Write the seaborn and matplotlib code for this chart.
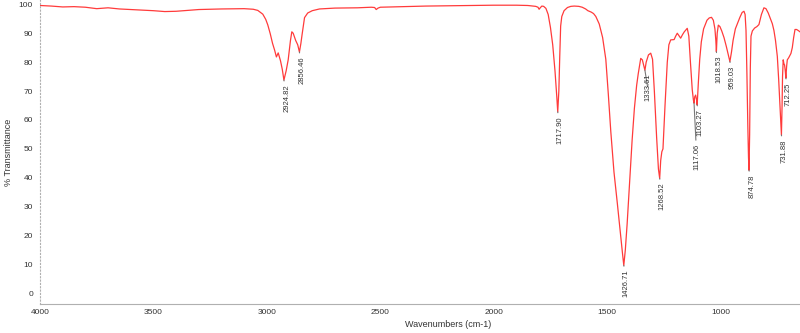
import numpy as np
import pandas as pd
import matplotlib
matplotlib.use("Agg")
import matplotlib.pyplot as plt
import seaborn as sns
from matplotlib.ticker import MultipleLocator

# Spectrum (wavenumber cm-1, % transmittance)
wavenumbers = [4000, 3950, 3900, 3850, 3800, 3750, 3700, 3650, 3600, 3550, 3500, 3450, 3400, 3350, 3300,
               3200, 3100, 3060, 3040, 3018, 3005, 2996, 2985, 2975, 2966, 2958, 2950, 2940, 2932, 2924.82,
               2915, 2906, 2896, 2890, 2884, 2873, 2864, 2856.46, 2850, 2845, 2834, 2820, 2800, 2768, 2700,
               2600, 2540, 2525, 2518, 2510, 2500, 2400, 2300, 2200, 2100, 2000, 1900, 1850, 1815, 1805,
               1800, 1795, 1788, 1780, 1770, 1760, 1750, 1740, 1730, 1722, 1717.90, 1713, 1709, 1705, 1700,
               1690, 1675, 1660, 1645, 1625, 1610, 1595, 1585, 1570, 1560, 1550, 1535, 1520, 1506, 1495,
               1484, 1470, 1455, 1440, 1432, 1426.71, 1420, 1412, 1400, 1390, 1380, 1370, 1363, 1352, 1345,
               1338, 1333.61, 1328, 1318, 1308, 1300, 1292, 1282, 1274, 1268.52, 1264, 1259, 1254, 1245,
               1235, 1228, 1220, 1205, 1198, 1191, 1184, 1176, 1168, 1160, 1147, 1140, 1133, 1125, 1120,
               1117.06, 1114, 1110, 1106, 1103.27, 1098, 1092, 1085, 1075, 1060, 1050, 1040, 1032, 1025,
               1021, 1018.53, 1015, 1010, 1003, 995, 985, 975, 966, 959.03, 952, 945, 935, 925, 915, 905,
               897, 892, 888, 884, 880, 877, 874.78, 872, 869, 866, 860, 850, 840, 831, 820, 809, 800, 790,
               780, 772, 765, 758, 750, 744, 739, 735, 731.88, 729, 727, 724, 721, 718, 715, 712.25, 709,
               706, 700, 690, 684, 678, 672, 665, 655, 651]
transmittance = [99.6, 99.4, 99.1, 99.2, 99.0, 98.5, 98.8, 98.4, 98.2, 98.0, 97.8, 97.5, 97.6, 97.9, 98.2,
                 98.4, 98.5, 98.3, 97.9, 96.6, 94.8, 92.9, 89.8, 86.5, 84.2, 81.8, 83.2, 80.5, 77.5, 73.8,
                 77.0, 80.8, 87.5, 90.5, 90.0, 87.5, 86.0, 83.5, 86.5, 89.4, 95.4, 97.0, 97.8, 98.4, 98.7,
                 98.8, 99.0, 98.9, 98.2, 98.7, 99.0, 99.2, 99.4, 99.5, 99.6, 99.7, 99.7, 99.6, 99.3, 99.0,
                 98.3, 98.8, 99.4, 99.3, 98.6, 96.5, 92.0, 86.0, 77.0, 68.0, 62.8, 70.0, 82.0, 92.5, 95.8,
                 97.8, 98.9, 99.3, 99.4, 99.3, 99.0, 98.4, 97.8, 97.3, 96.8, 95.8, 93.2, 88.5, 81.0, 69.0,
                 56.0, 42.0, 31.0, 19.5, 13.5, 9.7, 15.0, 24.0, 40.0, 53.0, 64.0, 72.0, 76.0, 81.3, 80.8,
                 78.5, 77.2, 80.0, 82.5, 83.1, 81.0, 70.0, 54.0, 43.0, 39.8, 46.0, 49.0, 50.0, 65.0,
                 80.0, 86.0, 87.7, 87.8, 89.0, 90.0, 89.2, 88.3, 89.5, 90.5, 91.7, 89.0, 80.0, 70.5, 67.0,
                 65.8, 68.0, 68.6, 67.0, 65.2, 73.0, 81.0, 87.0, 91.5, 94.5, 95.3, 95.5, 94.5, 91.5,
                 87.5, 83.6, 90.0, 92.8, 92.3, 90.8, 88.5, 85.5, 82.5, 80.2, 83.5, 87.5, 91.5, 93.5, 95.5, 97.2,
                 97.6, 96.5, 91.0, 76.0, 58.0, 47.0, 42.6, 55.0, 78.0, 89.0, 90.8, 91.8, 92.3, 93.0, 96.5, 98.8,
                 98.5, 97.0, 95.0, 93.3, 91.0, 87.5, 82.0, 74.0, 66.0, 59.0, 54.8, 65.0, 75.0, 80.8, 79.5,
                 79.0, 77.0, 74.5, 78.5, 80.8, 81.5, 83.0, 85.0, 88.5, 91.3, 91.3, 90.8, 90.5]

peak_wn = [2924.82, 2856.46, 1717.90, 1426.71, 1333.61, 1268.52, 1117.06, 1103.27,
           1018.53, 959.03, 874.78, 731.88, 712.25]
peak_tr = [73.8, 83.5, 62.8, 9.7, 77.2, 39.8, 65.8, 65.2, 83.6, 80.2, 42.6, 54.8, 74.5]
peak_text = ["2924.82", "2856.46", "1717.90", "1426.71", "1333.61", "1268.52", "1117.06", "1103.27",
             "1018.53", "959.03", "874.78", "731.88", "712.25"]

df = pd.DataFrame({"wn": wavenumbers, "tr": transmittance})

sns.set_theme(style="white")
plt.rcParams["font.family"] = ["Liberation Sans", "DejaVu Sans"]

fig = plt.figure(figsize=(8, 3.33), dpi=100)
ax = fig.add_axes([0.05, 0.086, 0.95, 0.914])

sns.lineplot(data=df, x="wn", y="tr", sort=False, estimator=None, ax=ax,
             color="#ff3b3b", linewidth=0.9)

ax.set_xlim(4000, 650)
ax.set_ylim(-3.8, 101.5)

ax.xaxis.set_major_locator(MultipleLocator(500))
ax.xaxis.set_minor_locator(MultipleLocator(100))
ax.yaxis.set_major_locator(MultipleLocator(10))
ax.yaxis.set_minor_locator(MultipleLocator(2))

for s in ["top", "right"]:
    ax.spines[s].set_visible(False)
for s in ["left", "bottom"]:
    ax.spines[s].set_color("#b0b0b0")
    ax.spines[s].set_linewidth(0.8)
ax.spines["left"].set_linestyle((0, (1, 2)))

ax.tick_params(axis="both", which="major", labelsize=6, colors="#555555",
               labelcolor="#333333", length=3, width=0.8, pad=2)
ax.tick_params(axis="both", which="minor", colors="#555555", length=1.5, width=0.8)
ax.tick_params(axis="x", which="both", direction="inout")
ax.tick_params(axis="y", which="both", direction="out")

ax.set_xlabel("Wavenumbers (cm-1)", fontsize=6.5, color="#333333")
ax.set_ylabel("% Transmittance", fontsize=6.5, color="#333333")
ax.xaxis.set_label_coords(0.537, -0.05)
ax.yaxis.set_label_coords(-0.036, 0.5)

extra = {"1117.06": 29, "1333.61": 2}
for wn, tr, txt in zip(peak_wn, peak_tr, peak_text):
    off = extra.get(txt, 3)
    ax.annotate(txt, xy=(wn, tr), xytext=(-0.6, -off), textcoords="offset points",
                rotation=90, ha="left", va="top", fontsize=5.5, color="#333333",
                arrowprops=dict(arrowstyle="-", color="#777777", lw=0.8,
                                shrinkA=0, shrinkB=0))

fig.savefig("out.png", dpi=100)
